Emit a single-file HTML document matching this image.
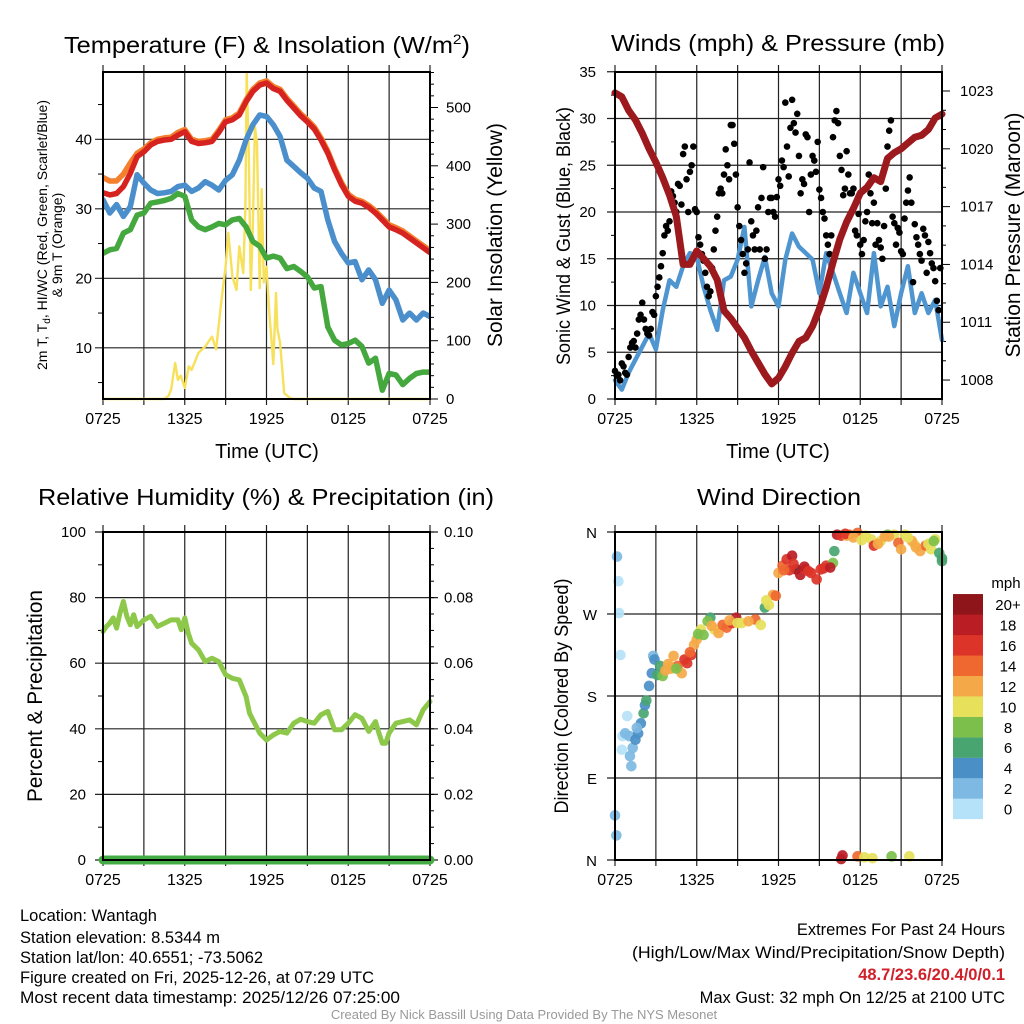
<!DOCTYPE html>
<html><head><meta charset="utf-8"><title>Mesonet Station Meteogram - Wantagh</title>
<style>
html,body{margin:0;padding:0;background:#fff;}
svg{display:block;font-family:"Liberation Sans",Arial,sans-serif;}
.nar{font-family:"Liberation Sans Narrow","Liberation Sans",sans-serif;}
</style></head>
<body>
<svg id="chart" width="1024" height="1024" viewBox="0 0 1024 1024" xmlns="http://www.w3.org/2000/svg">
<rect x="0" y="0" width="1024" height="1024" fill="#fff"/>
<g id="grids"></g>
<g id="series"></g>
<g id="frames"></g>
<g id="labels" font-size="15" fill="#000"></g>

<text x="267" y="53" font-size="23" text-anchor="middle" textLength="406" lengthAdjust="spacingAndGlyphs">Temperature (F) &amp; Insolation (W/m<tspan dy="-9" font-size="14">2</tspan><tspan dy="9">)</tspan></text>
<text x="778" y="51" font-size="23" text-anchor="middle" textLength="334" lengthAdjust="spacingAndGlyphs">Winds (mph) &amp; Pressure (mb)</text>
<text x="266" y="505" font-size="23" text-anchor="middle" textLength="456" lengthAdjust="spacingAndGlyphs">Relative Humidity (%) &amp; Precipitation (in)</text>
<text x="779" y="505" font-size="23" text-anchor="middle" textLength="164" lengthAdjust="spacingAndGlyphs">Wind Direction</text>

<text x="267" y="458" font-size="20" text-anchor="middle">Time (UTC)</text>
<text x="778" y="458" font-size="20" text-anchor="middle">Time (UTC)</text>

<text transform="translate(47,235) rotate(-90)" font-size="14" text-anchor="middle" textLength="270" lengthAdjust="spacingAndGlyphs">2m T, T<tspan font-size="10" dy="3">d</tspan><tspan dy="-3">, HI/WC (Red, Green, Scarlet/Blue)</tspan></text>
<text transform="translate(62,245) rotate(-90)" font-size="14" text-anchor="middle">&amp; 9m T (Orange)</text>
<text transform="translate(502,235) rotate(-90)" font-size="21" text-anchor="middle" textLength="224" lengthAdjust="spacingAndGlyphs">Solar Insolation (Yellow)</text>
<text transform="translate(570,236) rotate(-90)" font-size="19" text-anchor="middle" textLength="258" lengthAdjust="spacingAndGlyphs">Sonic Wind &amp; Gust (Blue, Black)</text>
<text transform="translate(1020,235) rotate(-90)" font-size="21" text-anchor="middle" textLength="245" lengthAdjust="spacingAndGlyphs">Station Pressure (Maroon)</text>
<text transform="translate(42,696) rotate(-90)" font-size="21" text-anchor="middle" textLength="212" lengthAdjust="spacingAndGlyphs">Percent &amp; Precipitation</text>
<text transform="translate(568,696) rotate(-90)" font-size="19" text-anchor="middle" textLength="235" lengthAdjust="spacingAndGlyphs">Direction (Colored By Speed)</text>

<g class="nar" font-size="16.5">
<text x="20" y="921">Location: Wantagh</text>
<text x="20" y="943">Station elevation: 8.5344 m</text>
<text x="20" y="963">Station lat/lon: 40.6551; -73.5062</text>
<text x="20" y="983">Figure created on Fri, 2025-12-26, at 07:29 UTC</text>
<text x="20" y="1003" textLength="380" lengthAdjust="spacingAndGlyphs">Most recent data timestamp: 2025/12/26 07:25:00</text>
</g>
<g class="nar" font-size="16.5" text-anchor="end">
<text x="1005" y="935">Extremes For Past 24 Hours</text>
<text x="1005" y="958" textLength="373" lengthAdjust="spacingAndGlyphs">(High/Low/Max Wind/Precipitation/Snow Depth)</text>
<text x="1005" y="980" fill="#d0202a" font-weight="bold">48.7/23.6/20.4/0/0.1</text>
<text x="1005" y="1003">Max Gust: 32 mph On 12/25 at 2100 UTC</text>
</g>
<text class="nar" x="524" y="1019" font-size="13" fill="#999" text-anchor="middle">Created By Nick Bassill Using Data Provided By The NYS Mesonet</text>
</svg>
<script>
const timeLabels = ["0725","1325","1925","0125","0725"];
const tempTicks = [10,20,30,40];
const solarTicks = [0,100,200,300,400,500];
const windTicks = [0,5,10,15,20,25,30,35];
const pressTicks = [1008,1011,1014,1017,1020,1023];
const rhTicks = [0,20,40,60,80,100];
const precipTicks = ["0.00","0.02","0.04","0.06","0.08","0.10"];
const dirTicks = ["N","E","S","W","N"];
const speedBins = ["0","2","4","6","8","10","12","14","16","18","20+"];
const speedColors = ["#b5e2f8","#7db9e2","#4a8fc6","#48a56f","#7cc04b","#e6e05a","#f5a847","#ef6830","#dc3428","#bb1d25","#8e1519"];

const tempRed = [32.3,32,32.2,33.2,35.1,37.5,38.2,39.2,39.7,39.9,40,40.6,41.1,39.7,39.4,39.5,39.7,41,42.5,42.8,43.5,45.4,46.9,47.8,48.1,47.3,46.9,45.6,44.5,43.4,42.5,41.5,39.9,38,35.6,33.5,31.8,31.1,30.8,30.2,29.4,28.4,27.4,27,26.5,25.8,25.1,24.4,23.7];
const tempOrange = [34.5,34,34,35,36.6,38,38.6,39.5,40,40.2,40.3,41,41.4,40,39.7,39.8,40,41.3,42.8,43.1,43.8,45.7,47.2,48.1,48.4,47.6,47.2,45.9,44.8,43.7,42.8,41.8,40.2,38.3,35.9,33.8,32.1,31.4,31.1,30.5,29.7,28.7,27.7,27.3,26.8,26.1,25.4,24.7,24];
const tempBlue = [31.3,29.4,30.6,28.9,30.3,34.9,33.7,32.7,32.2,32.3,32.5,33.2,33.4,32.5,33,33.9,33.4,32.7,34.1,34.9,37,39.9,42.1,43.5,43.3,42.1,40.4,37,36.1,35.2,34.4,33,32.5,28.4,25.3,23.6,22.2,22.4,19.8,21.2,19.8,16.4,18.3,16.9,14,15,14,15,14.5];
const dewGreen = [23.6,24.1,24.3,26.5,27,29.1,29.4,30.8,31,31.2,31.5,32.2,31.8,28.4,27.4,27,27.4,27.9,27.7,28.4,28.6,27.4,25.3,24.6,22.9,23.2,22.9,21.4,21.7,21,20.2,18.6,18.8,13,11.1,10.4,10.6,11.1,10.2,7.8,8.5,3.9,6.3,6.1,4.7,5.6,6.3,6.5,6.5];
const solarHours = [0,4.5,4.8,5,5.3,5.5,5.7,6,6.3,6.5,7,7.5,8,8.3,8.7,9,9.2,9.5,9.8,10,10.3,10.45,10.55,10.7,10.85,11,11.15,11.3,11.5,11.65,11.8,12,12.2,12.4,12.5,12.7,12.8,13,13.3,13.7,14,24];
const solarValues = [0,0,5,16,62,33,40,19,56,50,79,90,107,85,170,227,285,210,187,262,216,330,562,420,187,300,467,440,190,360,200,227,150,90,60,182,120,96,10,2,0,0];

const windSustained = [2,1,2.8,4.2,5.6,7,5.3,9.5,12.7,12,14.2,15.6,15.2,12,9.5,7.4,12.7,13.1,14.9,18.4,9.9,12.7,15.2,11.3,9.9,14.9,17.7,16.3,15.6,14.9,11.3,15.6,13.5,11.3,9.2,13.5,11.3,9.2,15.6,9.9,12,7.8,11.3,14.2,9.2,11.3,9.2,10.6,6.3];
const windGust = [3,2.5,2.6,2,3.8,3.5,2.8,2.6, 4.5,5.5,6,6.2,5.5,7,8.5,9, 10.3,8.5,7.5,7,6.8,7.5,9.3,9, 11,12,13,14.2,15.6,17.5,18.5,18, 19,22.2,21.7,21,20,23,22.8,20.8, 26.2,27,23.5,20,24.3,25,27,20.3, 20,17.3,16.5,15.5,14.8,13.5,12,11, 11.5,14,16,18,19.5,22,22.5,22, 24,26.7,25,23.5,29.3,29.3,27.3,24, 20.5,18.5,17,15.5,13.5,14.5,16,25.3, 19,17.5,16,18,20.5,16,21.5,24.8, 15,16,20,21.5,21.5,20,19.5,21.6, 23.5,22.8,25.5,24.8,31.7,27,23.8,29, 32,29.5,28.5,30.5,26,22,23.5,23, 28.3,28,20,24,26,25.5,24.3,27.5, 22.4,21.5,20,19.3,17.5,16.5,15.5,17.5, 28,29.8,30.8,29.5,26,24.5,21.8,22.5, 26.5,24,22,22,22.5,18,17.5,19.8, 16.5,15.5,17,19,20,24,22,18.8, 21,16.5,18.8,17,16.2,15,18.5,22.5, 27,28.7,29.8,19.5,18.8,16.5,18.3,17.8, 15.8,15.5,19.3,21,22.3,23.7,21,12.5, 18.7,17.3,16.5,15.5,14.8,18.2,17.5,13.5, 16.8,15.6,14.5,14,12.6,10.5,9.5,14];
const pressure = [1022.9,1022.7,1022.0,1021.5,1020.8,1020.0,1019.3,1018.5,1017.6,1016.5,1014.0,1014.0,1014.7,1014.3,1013.9,1013.2,1011.6,1011.2,1010.7,1010.2,1009.5,1008.9,1008.3,1007.8,1008.1,1008.7,1009.4,1010.0,1010.2,1010.8,1011.7,1012.8,1014.1,1015.3,1016.2,1016.9,1017.7,1018.0,1018.5,1018.3,1019.5,1019.8,1020.0,1020.3,1020.6,1020.7,1021.0,1021.6,1021.8];

const rhHours = [0,0.25,0.5,0.75,1,1.25,1.5,1.75,2,2.25,2.5,3,3.5,4,4.5,5,5.5,5.75,6,6.25,6.5,7,7.5,8,8.5,9,9.5,10,10.5,10.75,11,11.5,12,12.5,13,13.5,14,14.5,15,15.5,16,16.5,17,17.5,18,18.5,19,19.5,20,20.25,20.5,20.75,21,21.5,22,22.5,23,23.5,24];
const rhValues = [69.7,71.2,72.2,73.8,70.7,75.3,78.8,74.3,71.7,74.8,71.2,73.2,74.3,71.2,72.2,73.2,73.2,70.2,73.8,69.2,66.1,64.1,60.5,61.5,60.5,56.5,55.4,54.9,49.8,44.8,42.7,38.7,36.6,38.1,39.2,38.7,41.7,42.9,42.2,41.7,44.3,45.3,39.7,39.7,41.7,44.3,43.2,39.2,42.2,38.7,35.6,35.6,38.7,41.7,42.2,42.7,41.2,45.8,48.3];
const precipHours = [0,24];
const precipValues = [0,0];

const dirHours = [0.15,0.25,0.3,0.4,0,0.1,0.5,0.55,0.75,0.9,1.05,1.1,1.2,1.3,1.5,1.7,1.9,2.1,2.2,2.5,2.7,2.8,2.9,3.1,3.3,3.5,4,4.3,4.6,4.9,5.3,5.6,5.8,6,6.3,6.5,7,7.3,7.6,8.2,8.6,8.9,9.3,10.3,10.7,11,11.3,11.6,11.8,12,12.3,12.6,13,13.3,13.6,14,14.4,14.8,15.1,15.5,16,16.1,16.3,16.6,17.2,17.8,18.4,18.8,19,19.5,20,20.5,20.8,21,21.3,22,22.4,22.8,23.2,23.5,23.8,24,16.6,16.7,17.8,18.3,18.9,20.3,21.6, 3.7,4.1,5.1,6.8,7.9,9.8,12.8,13.9,15.3,17.0,19.8,21.8,23.0,2.3,1.6, 3.9,4.5,5.5,6.1,7.1,8.4,9.0,11.1,12.4,13.1,14.2,15.8,16.9,17.5,18.1,19.3,20.1,21.5,22.1,23.4,24.0];
const dirDegrees = [333,306,271,225,49,27,121,136,139,158,136,114,103,123,132,139,150,161,170,191,205,224,220,203,213,202,213,224,213,205,216,225,236,242,253,247,266,253,249,255,260,266,260,264,258,277,280,291,290,315,323,330,334,319,313,319,315,308,319,323,326,339,357,356,357,359,356,352,345,350,357,357,348,341,357,346,339,345,341,352,337,328,1,5,4,3,2,4,4, 208,210,220,262,258,262,318,322,320,356,355,350,347,175,145, 215,210,228,248,257,263,260,285,318,325,317,321,358,354,351,347,355,354,343,350,331];
const dirSpeeds = [2,1,1,1,3,3,1,1,2,1,2,2,2,3,4,4,4,6,4,4,4,3,4,6,7,8,11,12,14,12,16,17,13,12,11,8,7,11,12,15,16,19,11,14,10,7,10,12,15,12,15,17,18,20,18,16,17,16,17,16,9,7,18,17,15,14,10,11,16,11,8,10,15,12,10,11,12,14,10,11,7,7,19,18,14,10,10,8,10, 12,13,17,9,15,12,16,19,17,12,12,13,11,6,3, 12,9,15,8,13,12,10,11,14,17,16,18,16,13,11,12,12,10,13,8,7];

const NS = "http://www.w3.org/2000/svg";
function mk(parent, tag, attrs){ const e=document.createElementNS(NS,tag); for(const k in attrs) e.setAttribute(k,attrs[k]); parent.appendChild(e); return e; }
const G = document.getElementById('grids'), S = document.getElementById('series'), F = document.getElementById('frames'), L = document.getElementById('labels');

const P1={x0:103,x1:430,y0:72,y1:399}, P2={x0:615,x1:942,y0:72,y1:399}, P3={x0:103,x1:430,y0:532,y1:860}, P4={x0:615,x1:942,y0:532,y1:860};
function xh(p,h){ return p.x0 + h*(p.x1-p.x0)/24; }
const tempY = t => 139.3 + (40-t)*6.95;
const solarY = w => 399 - w*0.583;
const windY = s => 399 - s*9.35;
const presY = v => 91 + (1023-v)*19.27;
const rhY = r => 860 - r*3.28;
const precipY = v => 860 - v*3280;
const dirY = d => 860 - d*328/360;

function line(par,x1,y1,x2,y2,w,c){ return mk(par,'line',{x1,y1,x2,y2,stroke:c||'#000','stroke-width':w||1}); }
function txt(par,x,y,s,anchor,cls){ const t=mk(par,'text',{x,y,'text-anchor':anchor||'middle'}); if(cls) t.setAttribute('class',cls); t.textContent=s; return t; }

function timeAxis(p, name){
  const g = mk(G,'g',{});
  
  
  for(let h=0;h<=24;h+=3){ const x=xh(p,h); line(g,x,p.y0-7,x,p.y1+6,1.2,'#222'); }
  const lg = mk(L,'g',{});
  
  
  timeLabels.forEach((s,i)=>{ const t=txt(lg,xh(p,i*6),p.y1+25,s,'middle','nar'); t.setAttribute('font-size','16'); });
}
function hGrid(p, ys, name, left, right){
  const g = mk(G,'g',{});
  
  
  ys.forEach(y=>line(g,p.x0-(left||8),y,p.x1+(right||0),y,1.2,'#222'));
}
function frame(p,name){
  const r = mk(F,'rect',{x:p.x0,y:p.y0,width:p.x1-p.x0,height:p.y1-p.y0,fill:'none',stroke:'#000','stroke-width':2});
  
  
}
function pathD(xs,ys){ return xs.map((x,i)=>(i?'L':'M')+x.toFixed(1)+','+ys[i].toFixed(1)).join(''); }
function series(par,xs,ys,color,w,name){
  const e = mk(par,'path',{d:pathD(xs,ys),fill:'none',stroke:color,'stroke-width':w,'stroke-linejoin':'round','stroke-linecap':'round'});
  
  
  return e;
}
const halfHours = tempRed.map((_,i)=>i*0.5);

/* Panel 1 */
timeAxis(P1,'temp');
hGrid(P1, tempTicks.map(tempY), 'temp', 8, 0);
{
  const g = mk(G,'g',{});
  
  
  [5,15,25,35,45].forEach(t=>line(g,P1.x0-5,tempY(t),P1.x0,tempY(t),1,'#000'));
  for(let w=0; w<=560; w+=20){ const y=solarY(w); line(g,P1.x1,y,P1.x1+(w%100===0?8:4),y,1,'#000'); }
  const lg = mk(L,'g',{});
  
  
  tempTicks.forEach(t=>txt(lg,92,tempY(t)+5,String(t),'end'));
  const rg = mk(L,'g',{});
  
  
  solarTicks.forEach(w=>txt(rg,446,solarY(w)+5,String(w),'start'));
}
const s1 = mk(S,'g',{'clip-path':'url(#c1)'});
series(s1, solarHours.map(h=>xh(P1,h)), solarValues.map(solarY), '#f7e05a', 2.4, 'solar-insolation-line');
series(s1, halfHours.map(h=>xh(P1,h)), dewGreen.map(tempY), '#44a83f', 5.5, 'dewpoint-line');
series(s1, halfHours.map(h=>xh(P1,h)), tempBlue.map(tempY), '#4a8fcb', 5.5, 'heat-index-windchill-line');
series(s1, halfHours.map(h=>xh(P1,h)), tempOrange.map(tempY), '#f47f2c', 5.5, 'temp-9m-line');
series(s1, halfHours.map(h=>xh(P1,h)), tempRed.map(tempY), '#d6231f', 5.5, 'temp-2m-line');
frame(P1,'temp');

/* Panel 2 */
timeAxis(P2,'wind');
hGrid(P2, windTicks.map(windY), 'wind', 8, 0);
{
  const g = mk(G,'g',{});
  
  
  for(let v=1007; v<=1024; v++){ const y=presY(v); if(y<P2.y0||y>P2.y1) continue; line(g,P2.x1,y,P2.x1+((v-1008)%3===0?8:4),y,1,'#000'); }
  [2.5,7.5,12.5,17.5,22.5,27.5,32.5].forEach(s=>line(g,P2.x0-4,windY(s),P2.x0,windY(s),1,'#000'));
  const lg = mk(L,'g',{});
  
  
  windTicks.forEach(s=>txt(lg,596,windY(s)+5,String(s),'end'));
  const rg = mk(L,'g',{});
  
  
  pressTicks.forEach(v=>txt(rg,960,presY(v)+5,String(v),'start'));
}
const s2 = mk(S,'g',{'clip-path':'url(#c2)'});
series(s2, halfHours.map(h=>xh(P2,h)), windSustained.map(windY), '#4f95d0', 4.5, 'sustained-wind-line');
{
  const g = mk(s2,'g',{fill:'#000'});
  
  
  windGust.forEach((v,i)=>{
    const c = mk(g,'circle',{cx:xh(P2,i*0.125),cy:windY(v),r:3.3});
    
    
  });
}
series(s2, halfHours.map(h=>xh(P2,h)), pressure.map(presY), '#9c1a1d', 7, 'pressure-line');
frame(P2,'wind');

/* Panel 3 */
timeAxis(P3,'humidity');
hGrid(P3, rhTicks.map(rhY), 'humidity', 8, 8);
{
  const g = mk(G,'g',{});
  
  
  for(let r=10;r<100;r+=20) line(g,P3.x0-5,rhY(r),P3.x0,rhY(r),1,'#000');
  for(let r=0;r<=100;r+=5) line(g,P3.x1,rhY(r),P3.x1+4,rhY(r),1,'#000');
  const lg = mk(L,'g',{});
  
  
  rhTicks.forEach(r=>txt(lg,86,rhY(r)+5,String(r),'end'));
  const rg = mk(L,'g',{});
  
  
  precipTicks.forEach(s=>txt(rg,444,precipY(parseFloat(s))+5,s,'start'));
}
series(S, rhHours.map(h=>xh(P3,h)), rhValues.map(rhY), '#8dc84b', 5, 'relative-humidity-line');
frame(P3,'humidity');
series(S, precipHours.map(h=>xh(P3,h)), precipValues.map(precipY), '#45ac45', 9, 'precipitation-line');

/* Panel 4 */
timeAxis(P4,'direction');
hGrid(P4, [0,90,180,270,360].map(dirY), 'direction', 8, 0);
{
  const lg = mk(L,'g',{});
  
  
  dirTicks.forEach((s,i)=>txt(lg,597,dirY(i*90)+6,s,'end'));
}
{
  const g = mk(S,'g',{'fill-opacity':0.92});
  
  
  dirHours.forEach((h,i)=>{
    const b = Math.min(10, Math.floor(dirSpeeds[i]/2));
    const c = mk(g,'circle',{cx:xh(P4,h),cy:dirY(dirDegrees[i]),r:5.3,fill:speedColors[b]});
    
    
  });
}
frame(P4,'direction');
{
  const g = mk(L,'g',{});
  
  
  const t = txt(g,1006,588,'mph','middle'); t.setAttribute('font-size','15');
  speedBins.forEach((s,i)=>{
    const y0 = 819 - (i+1)*20.45;
    const r = mk(g,'rect',{x:953,y:y0,width:30,height:20.6,fill:speedColors[i]});
    
    
    txt(g,1008,y0+16,s,'middle');
  });
}

/* clip paths */
const defs = mk(document.getElementById('chart'),'defs',{});
const c1 = mk(defs,'clipPath',{id:'c1'}); mk(c1,'rect',{x:P1.x0,y:P1.y0,width:P1.x1-P1.x0,height:P1.y1-P1.y0+2});
const c2 = mk(defs,'clipPath',{id:'c2'}); mk(c2,'rect',{x:P2.x0-4,y:P2.y0,width:P2.x1-P2.x0+8,height:P2.y1-P2.y0+4});
</script>
</body></html>
